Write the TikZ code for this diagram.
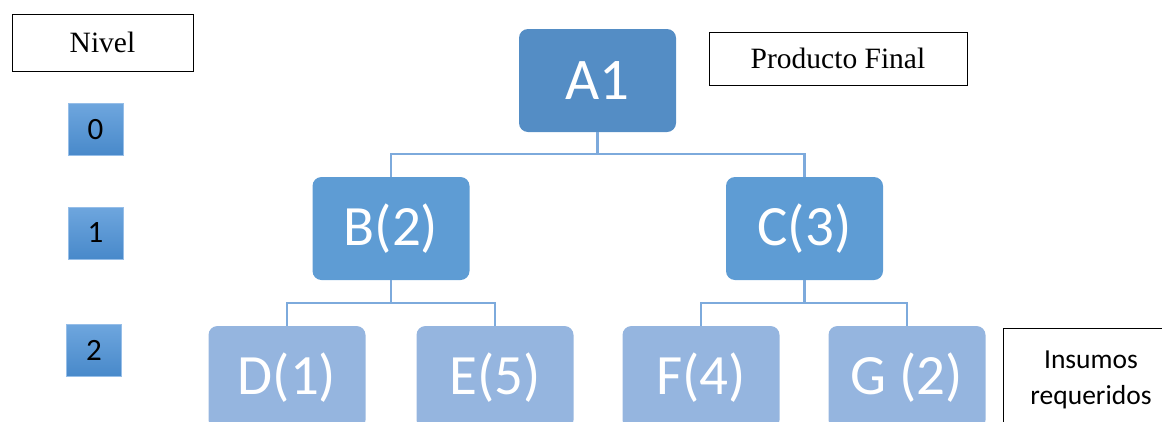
\documentclass[tikz,border=0pt]{standalone}
\usepackage{fontspec}
\setmainfont{Liberation Serif}
\newfontfamily\calib{Carlito}
\definecolor{cA}{RGB}{84,141,197}
\definecolor{cB}{RGB}{94,156,212}
\definecolor{cD}{RGB}{149,181,223}
\definecolor{cLine}{RGB}{125,170,220}
\definecolor{cLvTop}{RGB}{110,166,222}
\definecolor{cLvBot}{RGB}{72,137,202}
\definecolor{cLvBorder}{RGB}{150,190,232}
\tikzset{
  box/.style={rounded corners=9pt, inner sep=0pt, minimum width=157pt, minimum height=103pt, text=white, font=\calib\fontsize{57}{60}\selectfont},
  boxA/.style={box, fill=cA, font=\calib\fontsize{59}{62}\selectfont},
  boxB/.style={box, fill=cB},
  boxD/.style={box, fill=cD},
  conn/.style={draw=cLine, line width=2.4pt},
  lvl/.style={draw=cLvBorder, line width=0.6pt, top color=cLvTop, bottom color=cLvBot, minimum width=55pt, minimum height=52pt, inner sep=0pt, font=\calib\fontsize{31}{33}\selectfont},
  label/.style={draw=black, line width=1pt, inner sep=0pt, font=\fontsize{29.5}{32}\selectfont}
}
\begin{document}
\begin{tikzpicture}[x=1pt,y=-1pt]
\useasboundingbox (0,0) rectangle (1162,421);
\clip (0,0) rectangle (1162,421);
% level labels
\node[label, minimum width=181pt, minimum height=57pt] (nivel) at (102.5,42.5) {Nivel};
\node[lvl] (l0) at (95.5,129.5) {0};
\node[lvl] (l1) at (95.5,233) {1};
\node[lvl] (l2) at (94,350) {2};
\node[label, minimum width=258pt, minimum height=53pt] (prod) at (838,58.5) {Producto Final};
% tree nodes
\node[boxA] (A) at (597.5,80.5) {A1};
\node[boxB] (B) at (391,228.5) {B(2)};
\node[boxB] (C) at (804.5,228.5) {C(3)};
\node[boxD] (D) at (287,377.5) {D(1)};
\node[boxD] (E) at (495,377.5) {E(5)};
\node[boxD] (F) at (701,377.5) {F(4)};
\node[boxD] (G) at (907,377.5) {G (2)};
% connectors
\coordinate (ya) at (0,154);
\coordinate (yb) at (0,303);
\draw[conn] (A.south) -- (A.south |- ya);
\draw[conn] (B.north) -- (B.north |- ya) -- (C.north |- ya) -- (C.north);
\draw[conn] (B.south) -- (B.south |- yb);
\draw[conn] (D.north) -- (D.north |- yb) -- (E.north |- yb) -- (E.north);
\draw[conn] (C.south) -- (C.south |- yb);
\draw[conn] (F.north) -- (F.north |- yb) -- (G.north |- yb) -- (G.north);
% insumos box
\draw[black, line width=1pt] (1003,440) -- (1003,328) -- (1180,328);
\node[font=\calib\fontsize{27.5}{36}\selectfont, align=center, anchor=center] (ins) at (1091,380) {Insumos\\requeridos};
\end{tikzpicture}
\end{document}
